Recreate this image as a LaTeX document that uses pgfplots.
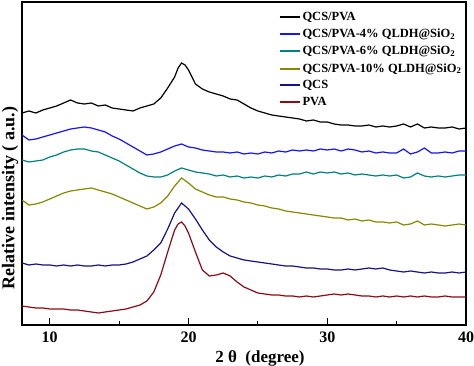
\documentclass[border=0pt]{standalone}
\usepackage{fontspec}
\setmainfont{Liberation Serif}
\usepackage{pgfplots}
\pgfplotsset{compat=1.18}
\definecolor{cBlue}{RGB}{20,20,245}
\definecolor{cTeal}{RGB}{0,128,128}
\definecolor{cOlive}{RGB}{135,135,0}
\definecolor{cNavy}{RGB}{20,20,130}
\definecolor{cRed}{RGB}{140,10,20}
\begin{document}
\begin{tikzpicture}
\useasboundingbox (-22pt,-41pt) rectangle (452pt,325pt);
\begin{axis}[
  scale only axis, width=444pt, height=323pt,
  xmin=8, xmax=40, ymin=0, ymax=323,
  y filter/.expression={325-y},
  xtick={10,20,30,40}, minor xtick={15,25,35},
  xtick pos=bottom, tick align=inside,
  major tick length=7pt, minor tick length=4pt,
  ytick=\empty,
  axis line style={line width=1.6pt},
  every tick/.style={line width=1.2pt, black},
  /pgf/number format/assume math mode=true,
  ticklabel style={font=\bfseries\fontsize{16}{16}\selectfont, yshift=-3pt},
  legend style={draw=none, fill=none, at={(axis description cs:0.575,0.978)}, anchor=north west,
    font=\bfseries\fontsize{12.5}{12.5}\selectfont, row sep=3pt, inner sep=1pt},
  legend cell align=left,
  legend image code/.code={\draw[#1,line width=2pt] (0pt,0pt) -- (20pt,0pt);},
  every axis plot/.append style={line width=1.2pt},
]
\addplot[black] coordinates {
(8.0,113)(8.5,111)(9.0,113)(9.5,110)(10.0,108)(10.5,106)(11.0,103)(11.5,100)(12.0,103)(12.5,104)
(13.0,103)(13.5,106)(14.0,105)(14.5,108)(15.0,109)(15.5,110)(16.0,111)(16.5,108)(17.0,106)(17.5,104)
(18.0,98)(18.5,88)(19.0,77)(19.25,68)(19.5,63)(19.75,65)(20.0,70)(20.5,84)(21.0,89)(21.5,92)(22.0,94)(22.5,96)
(23.0,99)(23.5,100)(24.0,104)(24.5,108)(25.0,111)(25.5,113)(26.0,115)(26.5,116)(27.0,117)(27.5,118)
(28.0,119)(28.5,121)(29.0,120)(29.5,122)(30.0,122)(30.5,124)(31.0,125)(31.5,125)(32.0,126)(32.5,126)
(33.0,125)(33.5,127)(34.0,126)(34.5,127)(35.0,126)(35.5,124)(36.0,127)(36.5,124)(37.0,128)(37.5,127)
(38.0,128)(38.5,128)(39.0,127)(39.5,129)(40.0,128)};
\addlegendentry{QCS/PVA}
\addplot[cBlue] coordinates {
(8.0,135)(8.5,140)(9.0,139)(9.5,137)(10.0,135)(10.5,133)(11.0,131)(11.5,129)(12.0,128)(12.5,127)
(13.0,128)(13.5,130)(14.0,132)(14.5,136)(15.0,139)(15.5,143)(16.0,147)(16.5,151)(17.0,155)(17.5,154)
(18.0,152)(18.5,149)(19.0,146)(19.5,144)(20.0,147)(20.5,148)(21.0,150)(21.5,151)(22.0,152)(22.5,152)
(23.0,153)(23.5,152)(24.0,154)(24.5,153)(25.0,154)(25.5,152)(26.0,153)(26.5,151)(27.0,152)(27.5,150)
(28.0,151)(28.5,150)(29.0,151)(29.5,149)(30.0,150)(30.5,149)(31.0,151)(31.5,149)(32.0,150)(32.5,152)
(33.0,151)(33.5,153)(34.0,152)(34.5,153)(35.0,153)(35.5,149)(36.0,154)(36.5,152)(37.0,148)(37.5,153)
(38.0,153)(38.5,152)(39.0,153)(39.5,151)(40.0,151)};
\addlegendentry{QCS/PVA-4\% QLDH@SiO\textsubscript{2}}
\addplot[cTeal] coordinates {
(8.0,160)(8.5,162)(9.0,161)(9.5,160)(10.0,157)(10.5,155)(11.0,152)(11.5,150)(12.0,149)(12.5,149)
(13.0,151)(13.5,152)(14.0,155)(14.5,158)(15.0,161)(15.5,165)(16.0,169)(16.5,173)(17.0,176)(17.5,177)
(18.0,177)(18.5,175)(19.0,171)(19.5,168)(20.0,170)(20.5,172)(21.0,173)(21.5,174)(22.0,176)(22.5,175)
(23.0,177)(23.5,176)(24.0,178)(24.5,177)(25.0,178)(25.5,176)(26.0,177)(26.5,175)(27.0,176)(27.5,174)
(28.0,174)(28.5,172)(29.0,174)(29.5,172)(30.0,173)(30.5,172)(31.0,174)(31.5,173)(32.0,175)(32.5,174)
(33.0,175)(33.5,176)(34.0,175)(34.5,176)(35.0,175)(35.5,178)(36.0,177)(36.5,173)(37.0,176)(37.5,177)
(38.0,176)(38.5,177)(39.0,176)(39.5,175)(40.0,175)};
\addlegendentry{QCS/PVA-6\% QLDH@SiO\textsubscript{2}}
\addplot[cOlive] coordinates {
(8.0,200)(8.5,205)(9.0,204)(9.5,202)(10.0,199)(10.5,196)(11.0,193)(11.5,191)(12.0,190)(12.5,189)
(13.0,188)(13.5,190)(14.0,192)(14.5,194)(15.0,197)(15.5,200)(16.0,203)(16.5,206)(17.0,209)(17.5,207)
(18.0,203)(18.5,196)(19.0,186)(19.5,178)(20.0,183)(20.5,189)(21.0,192)(21.5,195)(22.0,197)(22.5,197)
(23.0,199)(23.5,200)(24.0,202)(24.5,203)(25.0,205)(25.5,206)(26.0,208)(26.5,209)(27.0,211)(27.5,212)
(28.0,213)(28.5,214)(29.0,215)(29.5,216)(30.0,217)(30.5,218)(31.0,218)(31.5,220)(32.0,219)(32.5,221)
(33.0,220)(33.5,222)(34.0,222)(34.5,223)(35.0,222)(35.5,225)(36.0,224)(36.5,221)(37.0,225)(37.5,224)
(38.0,225)(38.5,226)(39.0,225)(39.5,224)(40.0,225)};
\addlegendentry{QCS/PVA-10\% QLDH@SiO\textsubscript{2}}
\addplot[cNavy] coordinates {
(8.0,263)(8.5,265)(9.0,264)(9.5,265)(10.0,265)(10.5,266)(11.0,265)(11.5,266)(12.0,265)(12.5,266)
(13.0,266)(13.5,265)(14.0,266)(14.5,265)(15.0,265)(15.5,264)(16.0,262)(16.5,259)(17.0,256)(17.5,250)
(18.0,243)(18.5,229)(19.0,213)(19.5,203)(20.0,209)(20.5,219)(21.0,230)(21.5,240)(22.0,247)(22.5,252)
(23.0,256)(23.5,258)(24.0,260)(24.5,261)(25.0,262)(25.5,263)(26.0,264)(26.5,265)(27.0,266)(27.5,266)
(28.0,267)(28.5,268)(29.0,268)(29.5,269)(30.0,269)(30.5,270)(31.0,270)(31.5,269)(32.0,270)(32.5,269)
(33.0,268)(33.5,269)(34.0,268)(34.5,270)(35.0,271)(35.5,272)(36.0,271)(36.5,272)(37.0,273)(37.5,272)
(38.0,273)(38.5,273)(39.0,272)(39.5,273)(40.0,272)};
\addlegendentry{QCS}
\addplot[cRed] coordinates {
(8.0,306)(8.5,307)(9.0,308)(9.5,308)(10.0,309)(10.5,309)(11.0,309)(11.5,310)(12.0,310)(12.5,311)
(13.0,312)(13.5,313)(14.0,312)(14.5,311)(15.0,310)(15.5,309)(16.0,307)(16.5,305)(17.0,301)(17.5,292)
(18.0,275)(18.5,252)(19.0,230)(19.25,224)(19.5,222)(19.75,226)(20.0,233)(20.5,252)(21.0,270)(21.5,276)(22.0,275)(22.5,273)
(23.0,276)(23.5,282)(24.0,287)(24.5,290)(25.0,293)(25.5,294)(26.0,295)(26.5,295)(27.0,296)(27.5,296)
(28.0,297)(28.5,296)(29.0,297)(29.5,296)(30.0,295)(30.5,294)(31.0,295)(31.5,294)(32.0,295)(32.5,296)
(33.0,296)(33.5,297)(34.0,296)(34.5,297)(35.0,296)(35.5,297)(36.0,296)(36.5,297)(37.0,296)(37.5,297)
(38.0,297)(38.5,296)(39.0,297)(39.5,297)(40.0,297)};
\addlegendentry{PVA}
\end{axis}
\node[rotate=90, font=\bfseries\fontsize{18}{18}\selectfont] at (-12pt,127pt) {Relative intensity ( a.u.)};
\node[font=\bfseries\fontsize{17}{17}\selectfont] at (238pt,-33pt) {2 θ\ \ (degree)};
\end{tikzpicture}
\end{document}
